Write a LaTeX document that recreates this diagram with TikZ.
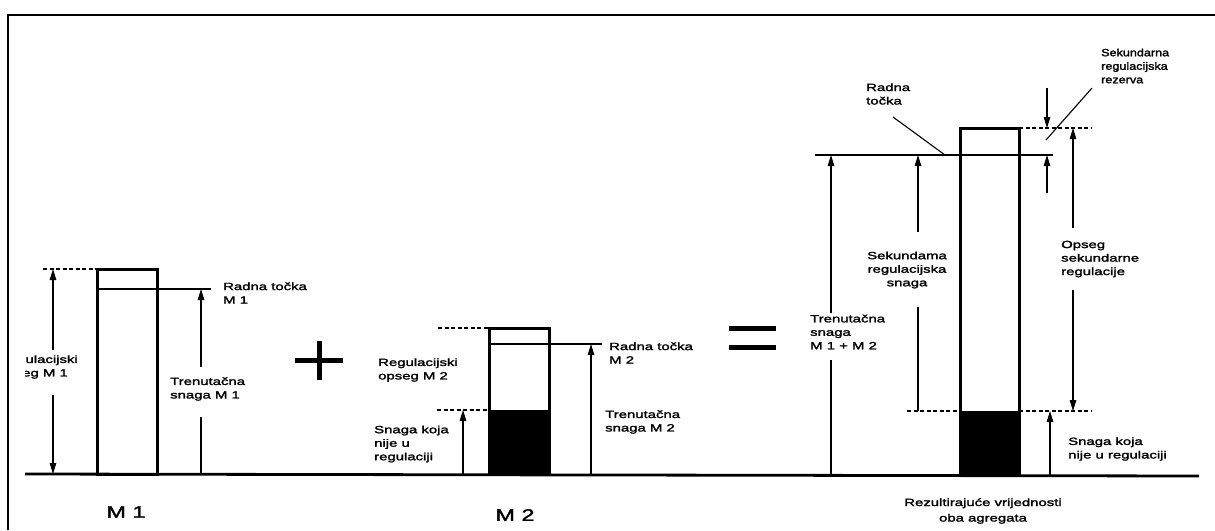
\documentclass[tikz,border=0pt]{standalone}
\usepackage{fontspec}
\setmainfont{Liberation Sans}[FakeStretch=1.42, FakeBold=2]
\newfontfamily\narrowfam{Liberation Sans}[FakeStretch=1.2, FakeBold=2]
\usetikzlibrary{arrows.meta}
\begin{document}
\begin{tikzpicture}[x=1pt,y=-1pt,
  lbl/.style={font=\fontsize{10.5}{13.5}\selectfont, align=left, inner sep=0pt, anchor=west},
  big/.style={font=\fontsize{16.5}{18}\selectfont, inner sep=0pt},
  barline/.style={line width=3pt},
  thin/.style={line width=1.1pt},
  dashline/.style={line width=1.1pt, dash pattern=on 4pt off 2.5pt},
  arr/.style={thin, -{Triangle[length=11pt,width=6.5pt]}},
  sign/.style={line width=5pt}]
\useasboundingbox (0,0) rectangle (1215,530);
% frame
\draw[line width=1.3pt] (8,530) -- (8,15) -- (1215,15);
% baseline
\draw[line width=2.8pt] (25,474) -- (1199,476);

% ---------- M1 ----------
\draw[barline] (97,269) rectangle (157,474);
\draw[thin] (97,289) -- (211,289);
\draw[dashline] (43,269) -- (97,269);
\draw[arr] (53,350) -- (53,269);
\draw[arr] (53,395) -- (53,474);
\begin{scope}
  \clip (25,0) rectangle (1215,530);
  \node[lbl] (regM1) at (-2,367) {Regulacijski\\opseg M 1};
\end{scope}
\draw[thin] (201,474) -- (201,417);
\draw[arr] (201,367) -- (201,289);
\node[lbl] (trenM1) at (170,389) {Trenuta\v{c}na\\snaga M 1};
\node[lbl] (radM1) at (223,293) {Radna to\v{c}ka\\M 1};
\node[big] (M1) at (126,512) {M 1};

% plus
\draw[sign] (295,360) -- (343,360);
\draw[sign] (319,341) -- (319,380);

% ---------- M2 ----------
\fill (489,410) rectangle (549,474);
\draw[barline] (489,328) rectangle (549,474);
\draw[thin] (489,344) -- (602,344);
\draw[dashline] (438,328) -- (489,328);
\draw[dashline] (437,410) -- (489,410);
\draw[arr] (463,474) -- (463,410);
\draw[arr] (591,474) -- (591,344);
\node[lbl] (regM2) at (378,370) {Regulacijski\\opseg M 2};
\node[lbl] (snM2) at (374,444) {Snaga koja\\nije u\\regulaciji};
\node[lbl] (radM2) at (609,353) {Radna to\v{c}ka\\M 2};
\node[lbl] (trenM2) at (605,422) {Trenuta\v{c}na\\snaga M 2};
\node[big] (M2) at (515,515) {M 2};

% equals
\draw[sign] (729,328) -- (776,328);
\draw[sign] (729,347) -- (776,347);

% ---------- sum ----------
\fill (960,411) rectangle (1019,475);
\draw[barline] (960,128) rectangle (1019,475);
\draw[thin] (815,155) -- (1053,155);
\node[lbl] (radS) at (866,94) {Radna\\to\v{c}ka};
\draw[thin] (893,117) -- (945,155);
\draw[thin] (831,475) -- (831,360);
\draw[arr] (831,313) -- (831,155);
\node[lbl] (trenS) at (810,332) {Trenuta\v{c}na\\snaga\\M 1 + M 2};
\draw[thin] (918,411) -- (918,307);
\draw[arr] (918,232) -- (918,155);
\node[lbl, anchor=center, align=center] (sekS) at (907,270) {Sekundama\\regulacijska\\snaga};
\draw[dashline] (907,411) -- (960,411);
\draw[dashline] (1019,411) -- (1092,411);
\draw[dashline] (1019,128) -- (1092,128);
\draw[arr] (1047,88) -- (1047,128);
\draw[arr] (1047,193) -- (1047,155);
\draw[arr] (1073,228) -- (1073,128);
\draw[arr] (1073,290) -- (1073,411);
\node[lbl] (opS) at (1061,259) {Opseg\\sekundarne\\regulacije};
\draw[arr] (1050,475) -- (1050,411);
\node[lbl] (snS) at (1068,449) {Snaga koja\\nije u regulaciji};
\draw[thin] (1046,140) -- (1092,88);
\node[lbl, font=\narrowfam\fontsize{10.5}{13.5}\selectfont] (rez) at (1101,66) {Sekundarna\\regulacijska\\rezerva};
\node[lbl, anchor=center, align=center, font=\fontsize{10.5}{15.5}\selectfont] (rezult) at (983,511) {Rezultiraju\'{c}e vrijednosti\\oba agregata};
\end{tikzpicture}
\end{document}
